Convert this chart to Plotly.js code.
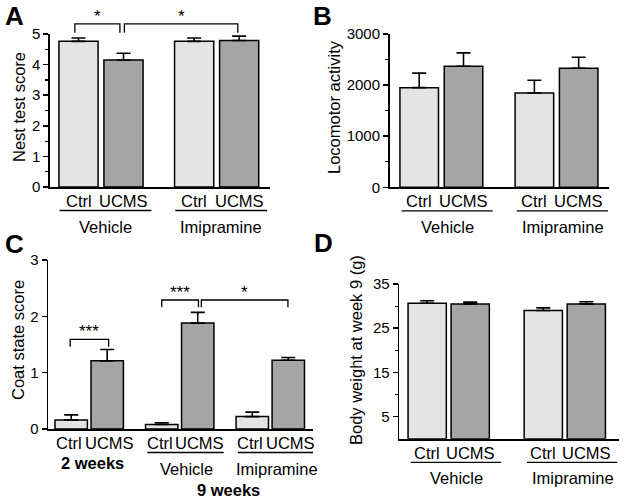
<!DOCTYPE html>
<html><head><meta charset="utf-8">
<script src="https://cdn.plot.ly/plotly-3.0.1.min.js"></script>
<style>html,body{margin:0;padding:0;background:#fff}#chart{width:624px;height:501px}</style>
</head><body><div id="chart"></div>
<script>
// ---------- data ----------
const conditions = ["Ctrl", "UCMS"];
const treatmentGroups = ["Vehicle", "Imipramine"];
const coatGroups = ["2 weeks", "Vehicle", "Imipramine"];
const coatSuperLabel = "9 weeks";

const nestMean = [4.76, 4.15, 4.76, 4.79];
const nestErr  = [0.11, 0.22, 0.11, 0.14];
const locoMean = [1950, 2370, 1845, 2330];
const locoErr  = [285, 260, 250, 215];
const coatMean = [0.16, 1.21, 0.08, 1.88, 0.22, 1.22];
const coatErr  = [0.09, 0.20, 0.03, 0.19, 0.08, 0.05];
const weightMean = [30.65, 30.5, 29.0, 30.5];
const weightErr  = [0.55, 0.4, 0.6, 0.5];

const panelLetters = ["A", "B", "C", "D"];
const yTitles = ["Nest test score", "Locomotor activity", "Coat state score", "Body weight at week 9 (g)"];
// significance: [bar index a, bar index b, label]
const nestSig = [[0, 1, "*"], [1, 3, "*"]];
const coatSig = [[0, 1, "***"], [2, 3, "***"], [3, 5, "*"]];

// ---------- style / geometry ----------
const W = 624, H = 501;
const CTRL = '#e4e4e4', UCMS = '#a5a5a5';
const FONT = 'Liberation Sans, Arial, sans-serif';
const LABEL_SIZE = 16.5;

const P = [
  {xa:'x',  ya:'y',  px:[50,270],    py:[187,34],    c0:78.5,  k:45,   gap:2.57, bw:0.87, yr:[0,5],    dtick:1,    minor:{dtick:0.5},
   mean:nestMean, err:nestErr, groups:treatmentGroups, line:[-0.42,1.62], lab:0.6, lblShift:0,
   letter:[14,16], title:[19,107]},
  {xa:'x2', ya:'y2', px:[389.7,608.7], py:[187.3,34], c0:419.2, k:44.3, gap:2.6, bw:0.87, yr:[0,3000], dtick:1000, minor:{dtick:500},
   mean:locoMean, err:locoErr, groups:treatmentGroups, line:[-0.4,1.66], lab:0.64, lblShift:0,
   letter:[322,16], title:[334,107]},
  {xa:'x3', ya:'y3', px:[48.3,313],  py:[429,260],   c0:71.2,  k:36,   gap:2.515, bw:0.9, yr:[0,3],    dtick:1,    minor:null,
   mean:coatMean, err:coatErr, groups:coatGroups, line:[-0.4,1.72], lab:0.68, lblShift:2,
   letter:[14,244], title:[18,340]},
  {xa:'x4', ya:'y4', px:[399.3,618.7], py:[438.8,284], c0:427.2, k:43, gap:2.7, bw:0.89, yr:[0,35], tickvals:[5,15,25,35], minor:{tickvals:[10,20,30]},
   mean:weightMean, err:weightErr, groups:treatmentGroups, line:[-0.38,1.72], lab:0.68, lblShift:0,
   letter:[323,243], title:[356,350]}
];

const pos = (p, i) => Math.floor(i / 2) * p.gap + (i % 2);
const py2paper = v => 1 - v / H;
const dataY2paper = (p, v) => { const y0 = 1 - p.py[0]/H, y1 = 1 - p.py[1]/H; return y0 + (v - p.yr[0])/(p.yr[1]-p.yr[0])*(y1-y0); };

const traces = [], shapes = [], annotations = [];
const layout = {
  width: W, height: H, margin:{l:0,r:0,t:0,b:0}, paper_bgcolor:'#fff', plot_bgcolor:'rgba(0,0,0,0)',
  showlegend:false, font:{family:FONT, color:'#000', size:15}, bargap:0
};

P.forEach((p, pi) => {
  const sfx = pi === 0 ? '' : String(pi + 1);
  const n = p.mean.length;
  conditions.forEach((c, ci) => {
    const idx = [...Array(n).keys()].filter(i => i % 2 === ci);
    traces.push({
      type:'bar', xaxis:p.xa, yaxis:p.ya,
      x: idx.map(i => pos(p, i)), y: idx.map(i => p.mean[i]), width: p.bw,
      marker:{color: ci === 0 ? CTRL : UCMS, line:{color:'#000', width:1.5}},
      error_y:{type:'data', symmetric:false, array: idx.map(i => p.err[i]), arrayminus: idx.map(() => 0),
               color:'#000', thickness:1.6, width:7},
      hoverinfo:'skip'
    });
  });
  const xr = [(p.px[0]-p.c0)/p.k, (p.px[1]-p.c0)/p.k];
  layout['xaxis'+sfx] = {domain:[p.px[0]/W, p.px[1]/W], range:xr, anchor:'y'+sfx,
    showline:true, linecolor:'#000', linewidth:1.7, showticklabels:false, ticks:'', showgrid:false, zeroline:false, fixedrange:true};
  const ya = {domain:[1-p.py[0]/H, 1-p.py[1]/H], range:p.yr, anchor:'x'+sfx,
    showline:true, linecolor:'#000', linewidth:1.7, ticks:'outside', ticklen:5, tickwidth:1.5, tickcolor:'#000',
    showgrid:false, zeroline:false, tickfont:{size:15, family:FONT, color:'#000'}, fixedrange:true};
  if (p.tickvals) { ya.tickmode = 'array'; ya.tickvals = p.tickvals; } else { ya.dtick = p.dtick; ya.tick0 = 0; }
  if (p.minor) ya.minor = Object.assign({ticks:'outside', ticklen:3, tickwidth:1.2, tickcolor:'#000'}, p.minor);
  layout['yaxis'+sfx] = ya;

  const axisPx = p.py[0];
  // condition labels
  for (let i = 0; i < n; i++) {
    annotations.push({xref:p.xa, yref:'paper', x:pos(p,i), y:py2paper(axisPx + 14), text:conditions[i%2],
      xshift: (i % 2 === 0 ? -1 : 1) * p.lblShift,
      showarrow:false, xanchor:'center', yanchor:'middle', font:{size:LABEL_SIZE}});
  }
  // group labels + underlines
  p.groups.forEach((g, gi) => {
    const gx = gi * p.gap;
    const isBold = (pi === 2 && gi === 0);
    if (!isBold) {
      shapes.push({type:'line', xref:p.xa, yref:'paper', x0:gx+p.line[0], x1:gx+p.line[1],
        y0:py2paper(axisPx+23.5), y1:py2paper(axisPx+23.5), line:{color:'#000', width:1.3}});
      annotations.push({xref:p.xa, yref:'paper', x:gx+p.lab, y:py2paper(axisPx+39.5), text:g,
        showarrow:false, xanchor:'center', yanchor:'middle', font:{size:LABEL_SIZE}});
    } else {
      annotations.push({xref:p.xa, yref:'paper', x:gx+0.6, y:py2paper(axisPx+34), text:'<b>'+g+'</b>',
        showarrow:false, xanchor:'center', yanchor:'middle', font:{size:LABEL_SIZE}});
    }
  });
  if (pi === 2) {
    const x9 = ((p.gap + p.line[0]) + (2*p.gap + p.line[1])) / 2 - 0.07;
    annotations.push({xref:p.xa, yref:'paper', x:x9, y:py2paper(axisPx+61), text:'<b>'+coatSuperLabel+'</b>',
      showarrow:false, xanchor:'center', yanchor:'middle', font:{size:LABEL_SIZE}});
  }
  // panel letter
  annotations.push({xref:'paper', yref:'paper', x:p.letter[0]/W, y:py2paper(p.letter[1]), text:'<b>'+panelLetters[pi]+'</b>',
    showarrow:false, xanchor:'center', yanchor:'middle', font:{size:26}});
  // y title
  annotations.push({xref:'paper', yref:'paper', x:p.title[0]/W, y:py2paper(p.title[1]), text:yTitles[pi], textangle:-90,
    showarrow:false, xanchor:'center', yanchor:'middle', font:{size:LABEL_SIZE}});
});

// significance brackets
function bracket(p, sig, top, leg, dx) {
  const a = sig[0], b = sig[1], label = sig[2];
  const xa = pos(p, a) + dx[0], xb = pos(p, b) + dx[1];
  const yt = dataY2paper(p, top), yl = dataY2paper(p, leg);
  shapes.push({type:'path', xref:p.xa, yref:'paper', path:`M ${xa},${yl} L ${xa},${yt} L ${xb},${yt} L ${xb},${yl}`,
    line:{color:'#000', width:1.3}});
  annotations.push({xref:p.xa, yref:'paper', x:(xa+xb)/2, y:yt, text:label, showarrow:false,
    xanchor:'center', yanchor:'bottom', yshift:-4, font:{size:17}});
}
bracket(P[0], nestSig[0], 5.33, 5.04, [-0.08, -0.08]);
bracket(P[0], nestSig[1], 5.33, 5.04, [0.02, -0.03]);
bracket(P[2], coatSig[0], 1.59, 1.46, [-0.03, 0.04]);
bracket(P[2], coatSig[1], 2.29, 2.16, [0.0, 0.02]);
bracket(P[2], coatSig[2], 2.29, 2.16, [0.1, -0.01]);

layout.shapes = shapes;
layout.annotations = annotations;
Plotly.newPlot('chart', traces, layout, {staticPlot:true, displayModeBar:false});
</script></body></html>
